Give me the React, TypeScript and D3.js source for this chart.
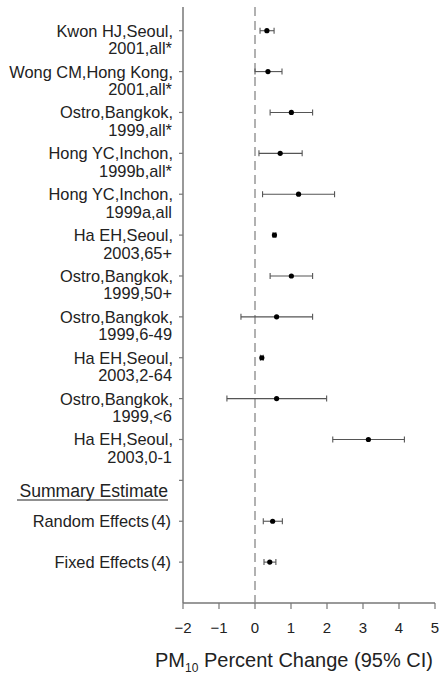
import React from "react";
import * as d3 from "d3";

const studyLabels: string[][] = [
  ["Kwon HJ,Seoul,", "2001,all*"],
  ["Wong CM,Hong Kong,", "2001,all*"],
  ["Ostro,Bangkok,", "1999,all*"],
  ["Hong YC,Inchon,", "1999b,all*"],
  ["Hong YC,Inchon,", "1999a,all"],
  ["Ha EH,Seoul,", "2003,65+"],
  ["Ostro,Bangkok,", "1999,50+"],
  ["Ostro,Bangkok,", "1999,6-49"],
  ["Ha EH,Seoul,", "2003,2-64"],
  ["Ostro,Bangkok,", "1999,<6"],
  ["Ha EH,Seoul,", "2003,0-1"],
];
const studyEst: number[] = [0.33, 0.36, 1.01, 0.70, 1.21, 0.54, 1.01, 0.60, 0.19, 0.60, 3.15];
const studyLo: number[] = [0.14, 0.0, 0.42, 0.11, 0.21, 0.50, 0.42, -0.39, 0.15, -0.78, 2.16];
const studyHi: number[] = [0.53, 0.75, 1.60, 1.31, 2.21, 0.58, 1.60, 1.60, 0.23, 1.99, 4.15];

const summaryLabels: string[] = ["Random Effects", "Fixed Effects"];
const summaryEst: number[] = [0.49, 0.41];
const summaryLo: number[] = [0.23, 0.25];
const summaryHi: number[] = [0.76, 0.58];

const xTicks: number[] = [-2, -1, 0, 1, 2, 3, 4, 5];

export default function App() {
  const W = 442, H = 677;
  const x = d3.scaleLinear().domain([-2, 5]).range([183, 435]);
  const y = d3.scaleLinear().domain([0.42, 15]).range([7, 603]);
  const font = "Liberation Sans, Arial, sans-serif";
  const textCol = "#222";
  const labelX = 173;

  const rows = [
    ...studyEst.map((e, i) => ({ pos: i + 1, est: e, lo: studyLo[i], hi: studyHi[i] })),
    ...summaryEst.map((e, i) => ({ pos: 13 + i, est: e, lo: summaryLo[i], hi: summaryHi[i] })),
  ];
  const tickPositions = d3.range(1, 15);

  return (
    <svg width={W} height={H} style={{ position: "absolute", left: 0, top: 0, background: "#fff" }}>
      <rect x={0} y={0} width={W} height={H} fill="#fff" />
      {/* y axis */}
      <line x1={x(-2)} x2={x(-2)} y1={y.range()[0]} y2={y.range()[1]} stroke="#777" strokeWidth={1.5} />
      {tickPositions.map((p) => (
        <line key={p} x1={x(-2) - 4} x2={x(-2)} y1={y(p)} y2={y(p)} stroke="#777" strokeWidth={1.2} />
      ))}
      {/* x axis */}
      <line x1={x(-2)} x2={x(5)} y1={603} y2={603} stroke="#777" strokeWidth={1.5} />
      {xTicks.map((t) => (
        <g key={t}>
          <line x1={x(t)} x2={x(t)} y1={603} y2={609} stroke="#777" strokeWidth={1.2} />
          <text x={x(t)} y={633} textAnchor="middle" fontFamily={font} fontSize={15} fill={textCol}>
            {t < 0 ? "\u2212" + Math.abs(t) : String(t)}
          </text>
        </g>
      ))}
      {/* zero reference line */}
      <line x1={x(0)} x2={x(0)} y1={y.range()[0]} y2={603} stroke="#888" strokeWidth={1.3} strokeDasharray="9,5" />
      {/* CIs and points */}
      {rows.map((r) => (
        <g key={r.pos}>
          <line x1={x(r.lo)} x2={x(r.hi)} y1={y(r.pos)} y2={y(r.pos)} stroke="#555" strokeWidth={1.1} />
          <line x1={x(r.lo)} x2={x(r.lo)} y1={y(r.pos) - 3} y2={y(r.pos) + 3} stroke="#555" strokeWidth={1.1} />
          <line x1={x(r.hi)} x2={x(r.hi)} y1={y(r.pos) - 3} y2={y(r.pos) + 3} stroke="#555" strokeWidth={1.1} />
          <circle cx={x(r.est)} cy={y(r.pos)} r={2.6} fill="#000" />
        </g>
      ))}
      {/* study labels */}
      {studyLabels.map((l, i) => (
        <text key={i} textAnchor="end" fontFamily={font} fontSize={16.4} fill={textCol}>
          <tspan x={labelX} y={y(i + 1) + 6}>{l[0]}</tspan>
          <tspan x={labelX - 1} y={y(i + 1) + 23.5}>{l[1]}</tspan>
        </text>
      ))}
      {/* summary */}
      <text x={168} y={497} textAnchor="end" fontFamily={font} fontSize={17.6} fill={textCol}>
        Summary Estimate
      </text>
      <line x1={17} x2={168} y1={500} y2={500} stroke={textCol} strokeWidth={1.1} />
      {summaryLabels.map((l, i) => (
        <text key={l} x={171} y={y(13 + i) + 6} textAnchor="end" fontFamily={font} fontSize={16.4} fill={textCol}>
          {l}
          <tspan dx={2}>(4)</tspan>
        </text>
      ))}
      {/* x title */}
      <text x={294} y={667} textAnchor="middle" fontFamily={font} fontSize={20} fill={textCol}>
        PM
        <tspan fontSize={12} dy={5}>10</tspan>
        <tspan dy={-5}> Percent Change (95% CI)</tspan>
      </text>
    </svg>
  );
}
